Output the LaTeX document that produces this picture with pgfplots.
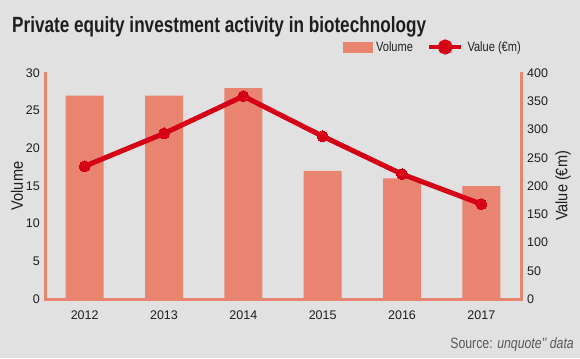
\documentclass[border=0pt]{standalone}
\usepackage{pgfplots}
\usepackage{pgfplotstable}
\pgfplotsset{compat=1.18}
\usepackage{fontspec}
\setmainfont{Liberation Sans}
\newfontfamily\condfont[FakeStretch=0.88]{Liberation Sans}
\newfontfamily\narrowfont[FakeStretch=0.82]{Liberation Sans}
\newfontfamily\titlefont[FakeStretch=0.78]{Liberation Sans}
\definecolor{bg}{RGB}{225,225,225}
\definecolor{barcol}{RGB}{232,132,112}
\definecolor{linecol}{RGB}{214,0,22}
\definecolor{txt}{RGB}{30,30,30}

\pgfplotstableread{
x year vol val
0 2012 27 235
1 2013 27 293
2 2014 28 359
3 2015 17 288
4 2016 16 221
5 2017 15 168
}\datatable

\pgfplotsset{
  common/.style={
    at={(45bp,59bp)}, anchor=south west,
    scale only axis, width=476bp, height=226bp,
    xmin=-0.5, xmax=5.5,
    major tick length=0pt,
    tick style={draw=none},
    axis line style={draw=barcol, line width=3bp, line cap=rect},
    /pgf/number format/assume math mode=true,
    tick label style={font=\fontsize{12.5bp}{14bp}\selectfont, text=txt},
  }
}

\begin{document}
\begin{tikzpicture}[x=1bp,y=1bp]
\fill[bg] (0,0) rectangle (580,358);
\node[anchor=base west, inner sep=0pt, text=txt, font=\titlefont\bfseries\fontsize{22bp}{24bp}\selectfont] at (12,326) {Private equity investment activity in biotechnology};
\node[anchor=base east, inner sep=0pt, text=black!65, font=\narrowfont\fontsize{15bp}{17bp}\selectfont] at (574,10) {Source: \textit{unquote'' data}};

\begin{axis}[common,
  ymin=0, ymax=30,
  axis x line*=bottom, axis y line*=left,
  xtick={0,...,5}, xticklabels={2012,2013,2014,2015,2016,2017},
  ytick={0,5,...,30},
  xticklabel style={anchor=north, inner sep=0pt, yshift=-12bp},
  yticklabel style={anchor=east, inner sep=0pt, xshift=-5bp},
  every axis y label/.style={at={(axis description cs:0,0.5)}, xshift=-28bp, rotate=90, anchor=center,
    font=\condfont\fontsize{16.5bp}{18bp}\selectfont, text=txt, inner sep=0pt},
  ylabel={Volume},
]
\addplot[ybar, bar width=38bp, bar shift=0pt, fill=barcol, draw=none] table[x=x,y=vol]{\datatable};
\end{axis}

\begin{axis}[common,
  ymin=0, ymax=400,
  axis x line=none, axis y line*=right,
  ytick={0,50,...,400},
  yticklabel style={anchor=west, inner sep=0pt, xshift=6bp},
  every axis y label/.style={at={(axis description cs:1,0.5)}, xshift=42bp, rotate=90, anchor=center,
    font=\condfont\fontsize{16.5bp}{18bp}\selectfont, text=txt, inner sep=0pt},
  ylabel={Value (€m)},
  legend columns=2,
  legend style={draw=none, fill=none, at={(1,1)}, anchor=east, xshift=3bp, yshift=26bp,
    font=\narrowfont\fontsize{13.5bp}{15bp}\selectfont, text=txt,
    nodes={inner sep=0pt},
    /tikz/every odd column/.append style={column sep=4bp},
    /tikz/every even column/.append style={column sep=14bp}},
]
\addlegendimage{legend image code/.code={\fill[barcol] (0bp,-5bp) rectangle (29bp,5bp);}}
\addlegendentry{Volume}
\addplot[linecol, line width=5bp, mark=*, mark size=5.5bp, mark options={solid, fill=linecol, draw=none, line width=0pt},
  legend image code/.code={\draw[linecol, line width=4.5bp] (0bp,0bp) -- (32bp,0bp); \fill[linecol] (16bp,0bp) circle (5bp);}]
  table[x=x,y=val]{\datatable};
\addlegendentry{Value (€m)}
\end{axis}
\end{tikzpicture}
\end{document}
